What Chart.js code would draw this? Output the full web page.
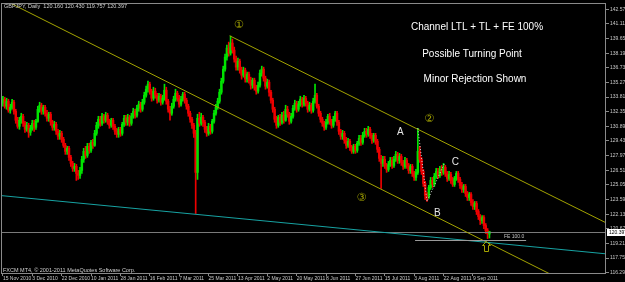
<!DOCTYPE html>
<html>
<head>
<meta charset="utf-8">
<script src="https://cdn.jsdelivr.net/npm/chart.js@4"></script>
<style>
  html, body { margin: 0; padding: 0; background: #000; }
  canvas { display: block; }
</style>
</head>
<body>
<canvas id="fx-chart" width="625" height="282"></canvas>
<script>
// GBPJPY daily candles, mid Nov 2010 to Sep 2011 (MT4 style screenshot)

let barCount = 329   // bar slots across the window, the right part stays empty
let barsPerLabel = 16

let xTickLabels = ['15 Nov 2010', '3 Dec 2010', '22 Dec 2010', '10 Jan 2011', '28 Jan 2011', '16 Feb 2011',
    '7 Mar 2011', '25 Mar 2011', '13 Apr 2011', '2 May 2011', '20 May 2011', '8 Jun 2011', '27 Jun 2011',
    '15 Jul 2011', '3 Aug 2011', '22 Aug 2011', '9 Sep 2011']

let yTickValues = [142.575, 141.115, 139.655, 138.195, 136.735, 135.275, 133.815, 132.355, 130.895,
    129.435, 127.975, 126.515, 125.055, 123.595, 122.135, 120.675, 119.215, 117.755, 116.295]

let opens = [
    133.2,133.6,132.9,133.4,132.5,132.8,133.3,132.4,131.5,130.9,
    131.5,131.9,131.2,130.6,131.0,130.3,130.7,131.2,130.8,131.4,
    132.6,133.0,132.4,132.8,132.2,131.7,132.1,131.3,130.8,131.1,
    130.4,129.9,130.2,129.6,129.0,128.4,128.7,127.8,127.2,126.7,
    126.9,126.2,126.0,126.5,127.6,128.4,128.0,128.9,128.5,129.3,
    129.0,130.2,131.0,131.6,131.2,131.9,131.5,132.0,131.4,131.0,
    131.5,130.9,130.4,130.1,130.6,130.2,131.1,131.7,131.3,131.8,
    131.2,131.9,132.4,132.0,132.7,133.1,132.6,133.3,134.0,134.6,
    135.1,134.4,133.7,134.4,134.0,133.5,133.9,133.3,133.7,134.5,
    133.4,132.6,132.2,132.9,133.6,134.2,133.7,133.1,133.6,134.1,
    133.5,132.9,132.2,131.6,131.0,130.2,126.3,131.7,131.2,131.8,
    131.3,130.6,130.2,130.9,130.4,131.4,132.2,132.8,133.4,134.3,
    135.4,136.6,137.8,138.7,138.2,139.2,138.5,137.6,136.8,137.4,
    136.5,136.0,136.5,135.6,136.1,135.5,135.0,135.5,134.8,134.4,
    135.0,136.2,136.6,135.7,134.9,135.3,134.3,133.5,132.6,131.6,
    131.0,131.8,131.3,132.0,131.5,132.6,132.1,131.4,131.9,132.7,
    133.2,132.6,133.1,133.6,133.1,133.7,133.2,132.6,133.0,132.5,
    133.4,134.0,132.9,132.2,131.6,131.2,130.8,131.3,131.9,131.4,
    131.0,131.6,132.2,131.3,130.4,129.9,130.2,129.5,129.0,129.4,
    128.8,128.4,128.9,128.5,129.2,129.7,129.3,130.0,130.4,130.1,
    130.6,130.0,129.5,130.0,129.4,128.6,127.7,127.2,127.6,127.0,
    126.6,127.1,127.5,127.0,127.6,128.1,127.5,127.9,127.3,126.9,
    127.5,127.0,126.5,126.9,126.2,125.8,126.3,128.4,127.6,126.4,
    125.2,124.0,123.9,124.8,125.5,125.1,125.9,126.4,126.0,126.6,
    126.3,126.8,126.2,125.7,126.1,125.5,125.1,125.7,126.2,125.6,
    125.0,124.6,124.9,124.2,123.8,124.1,123.3,122.9,123.2,122.4,
    121.9,121.5,121.8,121.0,120.5,120.160]

let highs = [
    133.9,133.8,133.7,133.6,133.1,133.6,133.5,132.6,131.8,131.8,
    132.2,132.1,131.4,131.3,131.2,131.0,131.5,131.5,131.6,132.9,
    133.3,133.2,133.0,133.0,132.5,132.3,132.3,131.5,131.4,131.3,
    130.6,130.5,130.4,129.8,129.2,128.9,128.9,128.0,127.4,127.2,
    127.1,126.5,126.8,127.9,128.7,128.9,129.2,129.2,129.5,129.6,
    130.5,131.3,131.9,131.9,132.2,132.1,132.3,132.2,131.6,131.7,
    131.7,131.1,130.7,130.8,130.8,131.3,132.0,132.0,132.1,132.0,
    132.2,132.7,132.6,133.0,133.4,133.3,133.6,134.3,134.9,135.4,
    135.3,134.6,134.8,134.7,134.2,134.2,134.1,134.0,135.1,134.8,
    133.6,132.9,133.2,133.9,134.6,134.4,134.0,133.9,134.3,134.3,
    133.7,133.1,132.4,131.8,131.2,130.5,132.1,132.3,132.2,132.0,
    131.5,130.9,131.2,131.1,131.6,132.5,133.1,133.7,134.6,135.7,
    136.9,138.1,139.0,139.3,139.9,139.6,138.8,137.9,137.7,137.6,
    136.8,136.8,136.7,136.3,136.3,135.8,135.7,135.7,135.0,135.3,
    136.5,136.9,136.8,135.9,135.6,135.5,134.5,133.7,132.8,131.9,
    132.0,132.1,132.3,132.4,133.0,132.9,132.3,132.2,133.0,133.5,
    133.4,133.4,133.9,133.8,134.0,133.9,133.4,133.3,133.2,133.7,
    135.1,134.2,133.1,132.4,131.8,131.4,131.6,132.1,132.2,131.6,
    131.9,132.4,132.4,131.5,130.6,130.5,130.4,129.8,129.7,129.6,
    129.0,129.1,129.1,129.4,130.0,130.0,130.3,130.7,130.7,130.9,
    130.8,130.2,130.2,130.2,129.6,128.8,128.0,127.9,127.9,127.2,
    127.4,127.8,127.8,127.9,128.4,128.3,128.2,128.1,127.5,127.8,
    127.7,127.2,127.1,127.1,126.4,126.6,130.7,128.9,127.8,126.6,
    125.4,124.3,125.0,125.8,125.8,126.2,126.7,126.7,126.9,127.0,
    127.2,127.0,126.4,126.4,126.3,125.8,125.9,126.4,126.4,125.8,
    125.3,125.1,125.1,124.4,124.3,124.3,123.6,123.4,123.4,122.6,
    122.1,122.0,122.0,121.2,120.7,120.430]

let lows = [
    132.9,132.7,132.6,132.3,132.2,132.6,132.1,131.2,130.7,130.6,
    131.2,130.9,130.3,130.4,129.8,130.0,130.5,130.4,130.6,131.3,
    132.3,132.1,132.1,131.9,131.4,131.4,131.0,130.5,130.5,130.1,
    129.6,129.6,129.3,128.8,128.1,128.1,127.5,126.9,126.4,126.4,
    125.5,125.6,125.7,126.2,127.3,127.7,127.8,128.2,128.3,128.7,
    128.9,130.0,130.7,130.9,131.0,131.2,131.3,131.1,130.7,130.8,
    130.6,130.1,129.8,129.8,129.9,130.0,130.9,131.0,131.0,130.9,
    131.0,131.7,131.7,131.8,132.4,132.3,132.4,133.1,133.8,134.3,
    134.1,133.4,133.5,133.7,133.2,133.3,133.0,133.1,133.5,133.1,
    132.3,131.5,132.0,132.7,133.4,133.4,132.8,132.9,133.4,133.2,
    132.6,131.9,131.3,130.7,129.8,122.2,125.6,130.9,131.0,130.9,
    130.3,129.9,130.0,130.1,130.2,131.2,132.0,132.6,133.2,134.1,
    135.2,136.4,137.5,137.9,138.0,138.2,137.3,136.5,136.5,136.2,
    135.6,135.8,135.3,135.3,135.2,134.6,134.7,134.5,134.1,134.2,
    134.8,135.9,135.4,134.6,134.7,133.9,133.2,132.3,131.3,130.7,
    130.8,131.0,131.1,131.2,131.4,131.8,131.1,131.2,131.7,132.5,
    132.3,132.4,132.9,132.8,132.9,132.9,132.3,132.4,132.2,132.3,
    133.2,132.7,131.9,131.3,130.9,130.5,130.6,131.1,131.1,130.7,
    130.8,131.4,131.0,130.1,129.6,129.6,129.2,128.7,128.8,128.5,
    128.2,128.2,128.2,128.3,129.0,129.0,129.1,129.8,129.8,129.9,
    129.7,129.2,129.3,129.1,128.3,127.4,124.7,126.9,126.7,126.3,
    126.4,126.9,126.7,126.8,127.4,127.2,127.2,127.0,126.6,126.7,
    126.7,126.2,126.2,125.9,125.5,125.5,126.1,127.3,126.1,124.9,
    123.6,123.4,123.7,124.6,124.8,124.9,125.7,125.7,125.8,126.0,
    126.1,125.9,125.4,125.5,125.2,124.9,124.9,125.5,125.3,124.7,
    124.3,124.3,123.9,123.5,123.5,123.0,122.6,122.6,122.1,121.6,
    121.1,121.2,120.7,120.2,119.7,119.757]

let closes = [
    133.6,132.9,133.4,132.5,132.8,133.3,132.4,131.5,130.9,131.5,
    131.9,131.2,130.6,131.0,130.3,130.7,131.2,130.8,131.4,132.6,
    133.0,132.4,132.8,132.2,131.7,132.1,131.3,130.8,131.1,130.4,
    129.9,130.2,129.6,129.0,128.4,128.7,127.8,127.2,126.7,126.9,
    126.2,126.0,126.5,127.6,128.4,128.0,128.9,128.5,129.3,129.0,
    130.2,131.0,131.6,131.2,131.9,131.5,132.0,131.4,131.0,131.5,
    130.9,130.4,130.1,130.6,130.2,131.1,131.7,131.3,131.8,131.2,
    131.9,132.4,132.0,132.7,133.1,132.6,133.3,134.0,134.6,135.1,
    134.4,133.7,134.4,134.0,133.5,133.9,133.3,133.7,134.5,133.4,
    132.6,132.2,132.9,133.6,134.2,133.7,133.1,133.6,134.1,133.5,
    132.9,132.2,131.6,131.0,130.2,126.3,131.7,131.2,131.8,131.3,
    130.6,130.2,130.9,130.4,131.4,132.2,132.8,133.4,134.3,135.4,
    136.6,137.8,138.7,138.2,139.2,138.5,137.6,136.8,137.4,136.5,
    136.0,136.5,135.6,136.1,135.5,135.0,135.5,134.8,134.4,135.0,
    136.2,136.6,135.7,134.9,135.3,134.3,133.5,132.6,131.6,131.0,
    131.8,131.3,132.0,131.5,132.6,132.1,131.4,131.9,132.7,133.2,
    132.6,133.1,133.6,133.1,133.7,133.2,132.6,133.0,132.5,133.4,
    134.0,132.9,132.2,131.6,131.2,130.8,131.3,131.9,131.4,131.0,
    131.6,132.2,131.3,130.4,129.9,130.2,129.5,129.0,129.4,128.8,
    128.4,128.9,128.5,129.2,129.7,129.3,130.0,130.4,130.1,130.6,
    130.0,129.5,130.0,129.4,128.6,127.7,127.2,127.6,127.0,126.6,
    127.1,127.5,127.0,127.6,128.1,127.5,127.9,127.3,126.9,127.5,
    127.0,126.5,126.9,126.2,125.8,126.3,128.4,127.6,126.4,125.2,
    124.0,123.9,124.8,125.5,125.1,125.9,126.4,126.0,126.6,126.3,
    126.8,126.2,125.7,126.1,125.5,125.1,125.7,126.2,125.6,125.0,
    124.6,124.9,124.2,123.8,124.1,123.3,122.9,123.2,122.4,121.9,
    121.5,121.8,121.0,120.5,120.160,120.397]

let lastQuote = 'GBPJPY, Daily  120.160 120.430 119.757 120.397'
let bidPrice = 120.397
let fe100Price = 119.55

let upColor = '#00e400'
let downColor = '#ee0000'
let olive = '#a3a300'

let categories = Array.from({length: barCount}, (_, i) => i)
let candleColors = closes.map((c, i) => c >= opens[i] ? upColor : downColor)

// everything MT4 draws on top of the candles: trend lines, FE level, labels
let overlay = {
    id: 'overlay',
    afterDatasetsDraw(chart) {
        let ctx = chart.ctx
        let a = chart.chartArea
        let xs = chart.scales.x
        let ys = chart.scales.y
        let px = i => xs.getPixelForValue(i)
        let py = p => ys.getPixelForValue(p)

        // line through two (bar, price) anchors, from the left edge or from the first anchor
        function trend(i1, p1, i2, p2, fromStart, color) {
            let x1 = px(i1), y1 = py(p1), x2 = px(i2), y2 = py(p2)
            let k = (y2 - y1) / (x2 - x1)
            let left = fromStart ? x1 : a.left
            ctx.beginPath()
            ctx.strokeStyle = color
            ctx.lineWidth = 1
            ctx.moveTo(left, y1 + k * (left - x1))
            ctx.lineTo(a.right, y1 + k * (a.right - x1))
            ctx.stroke()
        }

        ctx.save()
        ctx.beginPath()
        ctx.rect(a.left, a.top, a.width, a.height)
        ctx.clip()

        // bid line
        ctx.beginPath()
        ctx.strokeStyle = '#7a7a7a'
        ctx.moveTo(a.left, Math.round(py(bidPrice)) + 0.5)
        ctx.lineTo(a.right, Math.round(py(bidPrice)) + 0.5)
        ctx.stroke()

        trend(53.3, 138.66, 216.5, 123.66, false, olive)   // LTL
        trend(123.5, 139.93, 303.5, 123.55, true, olive)   // TL from top 1
        trend(0, 123.97, 300, 118.68, false, '#17a3a3')     // long cyan line

        // FE 100 level
        ctx.beginPath()
        ctx.strokeStyle = '#9a9a9a'
        let yFe = Math.round(py(fe100Price)) + 0.5
        ctx.moveTo(px(224.5), yFe)
        ctx.lineTo(px(285), yFe)
        ctx.stroke()
        ctx.fillStyle = '#c0c0c0'
        ctx.font = '5px "Liberation Sans"'
        ctx.textAlign = 'right'
        ctx.textBaseline = 'bottom'
        ctx.fillText('FE 100.0', px(284), yFe - 1)

        // A -> B -> C dotted legs
        ctx.beginPath()
        ctx.setLineDash([1, 2])
        ctx.strokeStyle = '#d8d8d8'
        ctx.moveTo(px(226), py(130.7))
        ctx.lineTo(px(231), py(123.4))
        ctx.lineTo(px(240.5), py(127.2))
        ctx.stroke()
        ctx.setLineDash([])

        // wave labels
        ctx.textAlign = 'center'
        ctx.textBaseline = 'middle'
        ctx.fillStyle = olive
        ctx.font = '11px "DejaVu Sans", "Noto Sans CJK JP"'
        ctx.fillText('\u2460', px(128.4), py(141.0))
        ctx.fillText('\u2461', px(232.2), py(131.6))
        ctx.fillText('\u2462', px(195.3), py(123.7))

        // hollow up arrow under the last low
        let ax = Math.round(px(263.3)) + 0.5
        let ay = Math.round(py(119.0)) + 0.5
        ctx.beginPath()
        ctx.strokeStyle = olive
        ctx.moveTo(ax, ay - 5)
        ctx.lineTo(ax + 4, ay - 1)
        ctx.lineTo(ax + 2, ay - 1)
        ctx.lineTo(ax + 2, ay + 5)
        ctx.lineTo(ax - 2, ay + 5)
        ctx.lineTo(ax - 2, ay - 1)
        ctx.lineTo(ax - 4, ay - 1)
        ctx.closePath()
        ctx.stroke()

        ctx.fillStyle = '#e6e6e6'
        ctx.font = '10px "Liberation Sans"'
        ctx.fillText('A', px(216.5), py(130.3))
        ctx.fillText('B', px(236.6), py(122.2))
        ctx.fillText('C', px(246.4), py(127.3))

        // comment block
        ctx.fillStyle = '#ffffff'
        ctx.fillText('Channel LTL + TL + FE 100%', 477, 27)
        ctx.fillText('Possible Turning Point', 472, 54)
        ctx.fillText('Minor Rejection Shown', 475, 79)

        // header and copyright
        ctx.textAlign = 'left'
        ctx.fillStyle = '#d0d0d0'
        ctx.font = '5.5px "Liberation Sans"'
        ctx.fillText(lastQuote, 4, 6)
        ctx.fillText('FXCM MT4, \u00A9 2001-2011 MetaQuotes Software Corp.', 3, 270)
        ctx.restore()

        // frame
        ctx.strokeStyle = '#8a8a8a'
        ctx.lineWidth = 1
        ctx.strokeRect(a.left - 0.5, a.top - 0.5, a.width, a.height)

        // bid box on the price axis
        let yb = Math.round(py(bidPrice))
        ctx.fillStyle = '#ffffff'
        ctx.fillRect(a.right + 1, yb - 3, 18, 7)
        ctx.fillStyle = '#000000'
        ctx.font = '5px "Liberation Sans"'
        ctx.textAlign = 'left'
        ctx.textBaseline = 'middle'
        ctx.fillText(bidPrice.toFixed(3), a.right + 3, yb + 0.5)
    }
}

let fxChart = new Chart(document.getElementById('fx-chart'), {
    type: 'bar',
    data: {
        labels: categories,
        datasets: [
            {   // bodies
                data: opens.map((o, i) => [o, closes[i]]),
                backgroundColor: candleColors,
                barThickness: 1.8,
                grouped: false,
                borderWidth: 0,
            },
            {   // wicks
                data: lows.map((l, i) => [l, highs[i]]),
                backgroundColor: candleColors,
                barThickness: 1,
                grouped: false,
                borderWidth: 0,
            }
        ]
    },
    options: {
        responsive: false,
        animation: false,
        devicePixelRatio: 1,
        layout: { padding: { left: 2, top: 2, right: 0, bottom: 0 } },
        plugins: { legend: { display: false }, tooltip: { enabled: false } },
        scales: {
            x: {
                offset: true,
                afterBuildTicks: s => { s.ticks = xTickLabels.map((t, k) => ({ value: k * barsPerLabel })) },
                afterFit: s => { s.height = 8 },
                grid: { drawOnChartArea: false, offset: false, tickLength: 2, color: '#8a8a8a' },
                border: { display: false },
                ticks: {
                    autoSkip: false, maxRotation: 0, minRotation: 0, align: 'start', padding: 0,
                    color: '#c8c8c8', font: { family: 'Liberation Sans', size: 5 },
                    callback: (v, i) => xTickLabels[i],
                },
            },
            y: {
                position: 'right',
                min: 116.166,
                max: 143.10,
                afterBuildTicks: s => { s.ticks = yTickValues.map(v => ({ value: v })) },
                afterFit: s => { s.width = 19 },
                grid: { drawOnChartArea: false, tickLength: 3, color: '#8a8a8a' },
                border: { display: false },
                ticks: {
                    autoSkip: false, padding: 1,
                    color: '#c8c8c8', font: { family: 'Liberation Sans', size: 5 },
                    callback: v => v.toFixed(3),
                },
            }
        }
    },
    plugins: [overlay]
})
</script>
</body>
</html>
